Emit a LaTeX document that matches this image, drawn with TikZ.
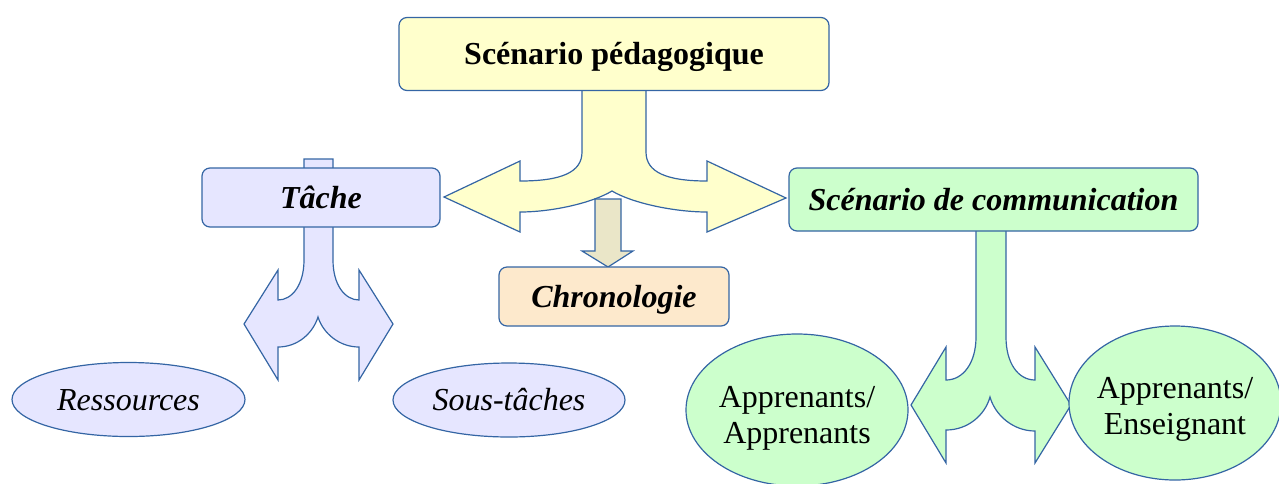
\documentclass[tikz,border=0pt]{standalone}
\usepackage{fontspec}
\setmainfont{Liberation Serif}
\usetikzlibrary{shapes.geometric}
\definecolor{trait}{HTML}{3465A4}
\definecolor{jaune}{HTML}{FFFFCC}
\definecolor{lavande}{HTML}{E6E6FF}
\definecolor{vert}{HTML}{CCFFCC}
\definecolor{orange}{HTML}{FDE9CC}
\definecolor{beige}{HTML}{EAE6C8}
\begin{document}
\begin{tikzpicture}[x=0.5pt,y=-0.5pt,
	bord/.style={draw=trait,line width=0.6pt},
	ligne/.style={text height=10.6pt,text depth=0pt},
	boite/.style={bord,ligne,rounded corners=4pt,inner sep=0pt,font=\fontsize{16}{18}\selectfont\bfseries},
	bulle/.style={bord,ellipse,inner sep=0pt,inner xsep=-4pt,align=center,font=\fontsize{16}{18}\selectfont}]
	\useasboundingbox (0,0) rectangle (1279,483);
	% fleches
	\draw[bord,fill=jaune] (582,90)--(582,152) .. controls (582,172) and (562,181) .. (520,181)--(520,161)--(444,197)--(520,232)--(520,212)
		.. controls (552,212) and (592,203) .. (612,191) .. controls (632,203) and (674,212) .. (707,212)--(707,232)--(786,198)--(707,161)--(707,181)
		.. controls (666,181) and (646,172) .. (646,152)--(646,90)--cycle;
	\draw[bord,fill=beige] (595,199)--(595,251)--(582,251)--(608,267)--(633,251)--(621,251)--(621,199)--cycle;
	\draw[bord,fill=lavande] (304,159)--(304,260) .. controls (304,285) and (292,300) .. (278,300)--(278,270)--(244,324)--(278,380)--(278,347)
		.. controls (298,347) and (313,333) .. (318,317) .. controls (323,333) and (339,347) .. (359,347)--(359,380)--(393,324)--(359,270)--(359,300)
		.. controls (345,300) and (333,285) .. (333,260)--(333,159)--cycle;
	\draw[bord,fill=vert] (976,220)--(976,337) .. controls (976,363) and (963,380) .. (946,380)--(946,347)--(911,405)--(946,463)--(946,430)
		.. controls (968,430) and (985,415) .. (990,397) .. controls (995,415) and (1013,431) .. (1035,431)--(1035,463)--(1071,405)--(1035,347)--(1035,380)
		.. controls (1018,380) and (1006,363) .. (1006,337)--(1006,220)--cycle;
	% boites
	\node[boite,fill=jaune,minimum width=215pt,minimum height=36.5pt] (peda) at (614,54) {Scénario pédagogique};
	\node[boite,fill=lavande,minimum width=119pt,minimum height=29.5pt] (tache) at (321,197.5) {\itshape Tâche};
	\node[boite,fill=vert,minimum width=204.5pt,minimum height=31.5pt] (comm) at (993.5,199.5) {\itshape Scénario de communication};
	\node[boite,fill=orange,minimum width=115pt,minimum height=29.5pt] (chrono) at (614,296.5) {\itshape Chronologie};
	% bulles
	\node[bulle,ligne,fill=lavande,minimum width=116.5pt,minimum height=37pt] (res) at (128.5,399.5) {\itshape Ressources};
	\node[bulle,ligne,fill=lavande,minimum width=116pt,minimum height=37pt] (sous) at (509,400) {\itshape Sous-tâches};
	\node[bulle,fill=vert,minimum width=111pt,minimum height=76pt] (aa) at (797,410) {\rule{0pt}{1.16em}Apprenants/\\Apprenants};
	\node[bulle,fill=vert,minimum width=106pt,minimum height=77pt] (ae) at (1175,403) {\rule{0pt}{1.03em}Apprenants/\\Enseignant};
\end{tikzpicture}
\end{document}
